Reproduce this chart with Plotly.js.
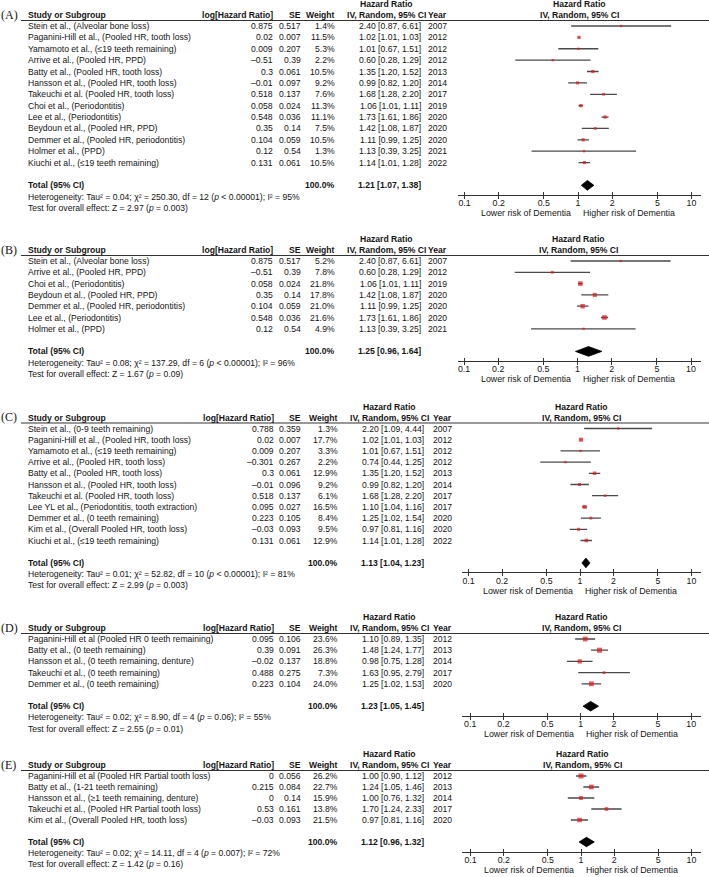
<!DOCTYPE html>
<html><head><meta charset="utf-8">
<script src="https://cdn.plot.ly/plotly-3.0.1.min.js"></script>
<style>html,body{margin:0;padding:0;background:#fff}</style>
</head><body><div id="chart" style="width:709px;height:877px"></div>
<script>
// ---------------- DATA ----------------
const tickVals = [0.1, 0.2, 0.5, 1, 2, 5, 10];
const tickText = ["0.1", "0.2", "0.5", "1", "2", "5", "10"];

// Panel A
const studiesA = ["Stein et al., (Alveolar bone loss)", "Paganini-Hill et al., (Pooled HR, tooth loss)", "Yamamoto et al., (≤19 teeth remaining)", "Arrive et al., (Pooled HR, PPD)", "Batty et al., (Pooled HR, tooth loss)", "Hansson et al., (Pooled HR, tooth loss)", "Takeuchi et al. (Pooled HR, tooth loss)", "Choi et al., (Periodontitis)", "Lee et al., (Periodontitis)", "Beydoun et al., (Pooled HR, PPD)", "Demmer et al., (Pooled HR, periodontitis)", "Holmer et al., (PPD)", "Kiuchi et al., (≤19 teeth remaining)"];
const logHRA = [0.875, 0.02, 0.009, -0.51, 0.3, -0.01, 0.518, 0.058, 0.548, 0.35, 0.104, 0.12, 0.131];
const seA = [0.517, 0.007, 0.207, 0.39, 0.061, 0.097, 0.137, 0.024, 0.036, 0.14, 0.059, 0.54, 0.061];
const weightA = [1.4, 11.5, 5.3, 2.2, 10.5, 9.2, 7.6, 11.3, 11.1, 7.5, 10.5, 1.3, 10.5];
const hrA = [2.40, 1.02, 1.01, 0.60, 1.35, 0.99, 1.68, 1.06, 1.73, 1.42, 1.11, 1.13, 1.14];
const loA = [0.87, 1.01, 0.67, 0.28, 1.20, 0.82, 1.28, 1.01, 1.61, 1.08, 0.99, 0.39, 1.01];
const hiA = [6.61, 1.03, 1.51, 1.29, 1.52, 1.20, 2.20, 1.11, 1.86, 1.87, 1.25, 3.25, 1.28];
const yearA = [2007, 2012, 2012, 2012, 2013, 2014, 2017, 2019, 2020, 2020, 2020, 2021, 2022];
const totalA = [1.21, 1.07, 1.38];
const hetA = ["0.04", "250.30", "12", "&lt; 0.00001", "95"];
const testA = ["2.97", "= 0.003"];

// Panel B
const studiesB = ["Stein et al., (Alveolar bone loss)", "Arrive et al., (Pooled HR, PPD)", "Choi et al., (Periodontitis)", "Beydoun et al., (Pooled HR, PPD)", "Demmer et al., (Pooled HR, periodontitis)", "Lee et al., (Periodontitis)", "Holmer et al., (PPD)"];
const logHRB = [0.875, -0.51, 0.058, 0.35, 0.104, 0.548, 0.12];
const seB = [0.517, 0.39, 0.024, 0.14, 0.059, 0.036, 0.54];
const weightB = [5.2, 7.8, 21.8, 17.8, 21.0, 21.6, 4.9];
const hrB = [2.40, 0.60, 1.06, 1.42, 1.11, 1.73, 1.13];
const loB = [0.87, 0.28, 1.01, 1.08, 0.99, 1.61, 0.39];
const hiB = [6.61, 1.29, 1.11, 1.87, 1.25, 1.86, 3.25];
const yearB = [2007, 2012, 2019, 2020, 2020, 2020, 2021];
const totalB = [1.25, 0.96, 1.64];
const hetB = ["0.08", "137.29", "6", "&lt; 0.00001", "96"];
const testB = ["1.67", "= 0.09"];

// Panel C
const studiesC = ["Stein et al., (0-9 teeth remaining)", "Paganini-Hill et al., (Pooled HR, tooth loss)", "Yamamoto et al., (≤19 teeth remaining)", "Arrive et al., (Pooled HR, tooth loss)", "Batty et al., (Pooled HR, tooth loss)", "Hansson et al., (Pooled HR, tooth loss)", "Takeuchi et al. (Pooled HR, tooth loss)", "Lee YL et al., (Periodontitis, tooth extraction)", "Demmer et al., (0 teeth remaining)", "Kim et al., (Overall Pooled HR, tooth loss)", "Kiuchi et al., (≤19 teeth remaining)"];
const logHRC = [0.788, 0.02, 0.009, -0.301, 0.3, -0.01, 0.518, 0.095, 0.223, -0.03, 0.131];
const seC = [0.359, 0.007, 0.207, 0.267, 0.061, 0.096, 0.137, 0.027, 0.105, 0.093, 0.061];
const weightC = [1.3, 17.7, 3.3, 2.2, 12.9, 9.2, 6.1, 16.5, 8.4, 9.5, 12.9];
const hrC = [2.20, 1.02, 1.01, 0.74, 1.35, 0.99, 1.68, 1.10, 1.25, 0.97, 1.14];
const loC = [1.09, 1.01, 0.67, 0.44, 1.20, 0.82, 1.28, 1.04, 1.02, 0.81, 1.01];
const hiC = [4.44, 1.03, 1.51, 1.25, 1.52, 1.20, 2.20, 1.16, 1.54, 1.16, 1.28];
const yearC = [2007, 2012, 2012, 2012, 2013, 2014, 2017, 2017, 2020, 2020, 2022];
const totalC = [1.13, 1.04, 1.23];
const hetC = ["0.01", "52.82", "10", "&lt; 0.00001", "81"];
const testC = ["2.99", "= 0.003"];

// Panel D
const studiesD = ["Paganini-Hill et al (Pooled HR 0 teeth remaining)", "Batty et al., (0 teeth remaining)", "Hansson et al., (0 teeth remaining, denture)", "Takeuchi et al., (0 teeth remaining)", "Demmer et al., (0 teeth remaining)"];
const logHRD = [0.095, 0.39, -0.02, 0.488, 0.223];
const seD = [0.106, 0.091, 0.137, 0.275, 0.104];
const weightD = [23.6, 26.3, 18.8, 7.3, 24.0];
const hrD = [1.10, 1.48, 0.98, 1.63, 1.25];
const loD = [0.89, 1.24, 0.75, 0.95, 1.02];
const hiD = [1.35, 1.77, 1.28, 2.79, 1.53];
const yearD = [2012, 2013, 2014, 2017, 2020];
const totalD = [1.23, 1.05, 1.45];
const hetD = ["0.02", "8.90", "4", "= 0.06", "55"];
const testD = ["2.55", "= 0.01"];

// Panel E
const studiesE = ["Paganini-Hill et al (Pooled HR Partial tooth loss)", "Batty et al., (1-21 teeth remaining)", "Hansson et al., (≥1 teeth remaining, denture)", "Takeuchi et al., (Pooled HR Partial tooth loss)", "Kim et al., (Overall Pooled HR, tooth loss)"];
const logHRE = [0, 0.215, 0, 0.53, -0.03];
const seE = [0.056, 0.084, 0.14, 0.161, 0.093];
const weightE = [26.2, 22.7, 15.9, 13.8, 21.5];
const hrE = [1.00, 1.24, 1.00, 1.70, 0.97];
const loE = [0.90, 1.05, 0.76, 1.24, 0.81];
const hiE = [1.12, 1.46, 1.32, 2.33, 1.16];
const yearE = [2012, 2013, 2014, 2017, 2020];
const totalE = [1.12, 0.96, 1.32];
const hetE = ["0.02", "14.11", "4", "= 0.007", "72"];
const testE = ["1.42", "= 0.16"];

const panelLabels = ["(A)", "(B)", "(C)", "(D)", "(E)"];

// ---------------- BUILD ----------------
const panels = [
  {s: studiesA, lg: logHRA, se: seA, w: weightA, hr: hrA, lo: loA, hi: hiA, yr: yearA, tot: totalA, het: hetA, z: testA},
  {s: studiesB, lg: logHRB, se: seB, w: weightB, hr: hrB, lo: loB, hi: hiB, yr: yearB, tot: totalB, het: hetB, z: testB},
  {s: studiesC, lg: logHRC, se: seC, w: weightC, hr: hrC, lo: loC, hi: hiC, yr: yearC, tot: totalC, het: hetC, z: testC},
  {s: studiesD, lg: logHRD, se: seD, w: weightD, hr: hrD, lo: loD, hi: hiD, yr: yearD, tot: totalD, het: hetD, z: testD},
  {s: studiesE, lg: logHRE, se: seE, w: weightE, hr: hrE, lo: loE, hi: hiE, yr: yearE, tot: totalE, het: hetE, z: testE}
];

// layout geometry (pixels)
const geom = [
  {row0: 26,    p: 11.38, x1: 578,   d: 113.5, xl: 458, xr: 701, cols: [274, 302, 336, 422, 448]},
  {row0: 261,   p: 11.3,  x1: 577.5, d: 113.5, xl: 458, xr: 701, cols: [274, 302, 336, 422, 448]},
  {row0: 428.5, p: 11.2,  x1: 580,   d: 111.5, xl: 462, xr: 701, cols: [275, 302, 339, 425, 453]},
  {row0: 639,   p: 11.2,  x1: 580.7, d: 110.5, xl: 462, xr: 701, cols: [275, 302, 339, 425, 453]},
  {row0: 776,   p: 11.0,  x1: 581,   d: 110.5, xl: 462, xr: 701, cols: [275, 302, 339, 425, 453]}
];

const W = 709, H = 877;
const FONT = '"Liberation Sans", Arial, Helvetica, sans-serif';
const SERIF = '"Liberation Serif", "Times New Roman", serif';
const FS = 8.6;
const TXT = '#141414';
const NAMEX = 27;

const traces = [], shapes = [], annotations = [];
const layout = {
  width: W, height: H, autosize: false,
  margin: {l: 0, r: 0, t: 0, b: 0, pad: 0},
  paper_bgcolor: '#fff', plot_bgcolor: 'rgba(0,0,0,0)',
  showlegend: false, hovermode: false,
  font: {family: FONT, size: FS, color: TXT}
};

const fmtNum = v => String(v).replace('-', '–');
const ci = (h, l, u) => h.toFixed(2) + ' [' + l.toFixed(2) + ', ' + u.toFixed(2) + ']';

function annP(text, xpx, ypx, xanchor, extra) {
  return Object.assign({text: text, xref: 'paper', yref: 'paper', x: xpx / W, y: 1 - ypx / H,
    xanchor: xanchor, yanchor: 'middle', showarrow: false, borderpad: 0,
    font: {family: FONT, size: FS, color: TXT}}, extra || {});
}
function annR(text, xpx, row, yid, xanchor, extra) {
  return Object.assign({text: text, xref: 'paper', yref: yid, x: xpx / W, y: row,
    xanchor: xanchor, yanchor: 'middle', showarrow: false, borderpad: 0,
    font: {family: FONT, size: FS, color: TXT}}, extra || {});
}

panels.forEach((P, k) => {
  const g = geom[k];
  const sfx = k === 0 ? '' : String(k + 1);
  const xid = 'x' + sfx, yid = 'y' + sfx;
  const n = P.s.length;
  const totRow = n + 1;
  const rowPx = r => g.row0 + r * g.p;
  const lineY = g.row0 - 5.5;
  const axisY = rowPx(totRow) + 9.5;
  const yRange = [(axisY - g.row0) / g.p, (lineY - g.row0) / g.p];
  const xRange = [(g.xl - g.x1) / g.d, (g.xr - g.x1) / g.d];

  layout['xaxis' + sfx] = {
    domain: [g.xl / W, g.xr / W], anchor: yid, type: 'log', range: xRange,
    tickmode: 'array', tickvals: tickVals, ticktext: tickText,
    ticks: 'inside', ticklen: 3, tickwidth: 1, tickcolor: '#333',
    showline: true, linecolor: '#333', linewidth: 1,
    showgrid: false, zeroline: false, fixedrange: true,
    tickfont: {family: FONT, size: 8.8, color: TXT}
  };
  layout['yaxis' + sfx] = {
    domain: [1 - axisY / H, 1 - lineY / H], anchor: xid, range: yRange,
    visible: false, fixedrange: true, showgrid: false, zeroline: false
  };
  const ovx = 'xaxis' + (k + 6);
  layout[ovx] = {
    overlaying: xid, anchor: yid, type: 'log', range: xRange,
    tickmode: 'array', tickvals: tickVals, ticks: 'outside', ticklen: 3, tickwidth: 1, tickcolor: '#333',
    showticklabels: false, showline: false, showgrid: false, zeroline: false, fixedrange: true
  };
  traces.push({type: 'scatter', mode: 'markers', x: [1], y: [0], xaxis: 'x' + (k + 6), yaxis: yid,
    marker: {opacity: 0}, hoverinfo: 'skip'});

  // study CIs and markers
  const rows = P.s.map((_, i) => i);
  traces.push({
    type: 'scatter', mode: 'markers', x: P.hr, y: rows, xaxis: xid, yaxis: yid,
    marker: {symbol: 'square', size: P.w.map(w => Math.max(2.3, Math.sqrt(w) * 0.98)), color: '#e0161d', line: {width: 0}},
    error_x: {type: 'data', symmetric: false,
      array: P.hi.map((h, i) => h - P.hr[i]),
      arrayminus: P.lo.map((l, i) => P.hr[i] - l),
      width: 0, thickness: 1.3, color: '#4a4a4a'},
    cliponaxis: false, hoverinfo: 'skip'
  });
  // pooled diamond
  const [T, TL, TH] = P.tot;
  traces.push({
    type: 'scatter', mode: 'lines', x: [TL, T, TH, T, TL],
    y: [totRow, totRow - 0.43, totRow, totRow + 0.43, totRow],
    fill: 'toself', fillcolor: '#000', line: {color: '#000', width: 0.8},
    xaxis: xid, yaxis: yid, hoverinfo: 'skip'
  });

  // null line and header rule
  shapes.push({type: 'line', xref: xid, yref: yid + ' domain', x0: 0, x1: 0, y0: 0, y1: 1,
    line: {color: '#444', width: 1}});
  shapes.push({type: 'line', xref: 'paper', yref: 'paper', x0: 21 / W, x1: 1,
    y0: 1 - lineY / H, y1: 1 - lineY / H, line: {color: '#333', width: 1}});

  // header texts
  const c = g.cols;
  const hy1 = g.row0 - 22, hy2 = g.row0 - 11;
  annotations.push(annP(panelLabels[k], 0, hy2 - 0.5, 'left', {font: {family: SERIF, size: 12, color: TXT}}));
  annotations.push(annP('<b>Study or Subgroup</b>', NAMEX, hy2, 'left'));
  annotations.push(annP('<b>log[Hazard Ratio]</b>', c[0], hy2, 'right'));
  annotations.push(annP('<b>SE</b>', c[1], hy2, 'right'));
  annotations.push(annP('<b>Weight</b>', c[2], hy2, 'right'));
  annotations.push(annP('<b>IV, Random, 95% CI</b>', c[3] + 5, hy2, 'right'));
  annotations.push(annP('<b>Hazard Ratio</b>', c[3] + 5 - 41, hy1, 'center'));
  annotations.push(annP('<b>Year</b>', c[4], hy2, 'right'));
  // plot header
  annotations.push({text: '<b>Hazard Ratio</b>', xref: xid, x: 0, xshift: 1, yref: 'paper', y: 1 - hy1 / H,
    xanchor: 'center', yanchor: 'middle', showarrow: false, borderpad: 0, font: {family: FONT, size: FS, color: TXT}});
  annotations.push({text: '<b>IV, Random, 95% CI</b>', xref: xid, x: 0, xshift: 1, yref: 'paper', y: 1 - hy2 / H,
    xanchor: 'center', yanchor: 'middle', showarrow: false, borderpad: 0, font: {family: FONT, size: FS, color: TXT}});

  // study rows
  P.s.forEach((name, i) => {
    annotations.push(annR(name, NAMEX, i, yid, 'left'));
    annotations.push(annR(fmtNum(P.lg[i]), c[0], i, yid, 'right'));
    annotations.push(annR(fmtNum(P.se[i]), c[1], i, yid, 'right'));
    annotations.push(annR(P.w[i].toFixed(1) + '%', c[2], i, yid, 'right'));
    annotations.push(annR(ci(P.hr[i], P.lo[i], P.hi[i]), c[3], i, yid, 'right'));
    annotations.push(annR(String(P.yr[i]), c[4], i, yid, 'right'));
  });
  // total
  annotations.push(annR('<b>Total (95% CI)</b>', NAMEX, totRow, yid, 'left'));
  annotations.push(annR('<b>100.0%</b>', c[2], totRow, yid, 'right'));
  annotations.push(annR('<b>' + ci(T, TL, TH) + '</b>', c[3], totRow, yid, 'right'));
  const h = P.het;
  annotations.push(annP('Heterogeneity: Tau² = ' + h[0] + '; χ² = ' + h[1] + ', df = ' + h[2] +
    ' (<i>p</i> ' + h[3] + '); I² = ' + h[4] + '%', NAMEX, rowPx(totRow + 1), 'left'));
  annotations.push(annP('Test for overall effect: Z = ' + P.z[0] + ' (<i>p</i> ' + P.z[1] + ')',
    NAMEX, rowPx(totRow + 2), 'left'));

  // favour labels
  annotations.push({text: 'Lower risk of Dementia', xref: xid, x: 0, xshift: -6, yref: 'paper', y: 1 - (axisY + 18.5) / H,
    xanchor: 'right', yanchor: 'middle', showarrow: false, borderpad: 0, font: {family: FONT, size: 8.8, color: TXT}});
  annotations.push({text: 'Higher risk of Dementia', xref: xid, x: 0, xshift: 4, yref: 'paper', y: 1 - (axisY + 18.5) / H,
    xanchor: 'left', yanchor: 'middle', showarrow: false, borderpad: 0, font: {family: FONT, size: 8.8, color: TXT}});
});

layout.shapes = shapes;
layout.annotations = annotations;

Plotly.newPlot('chart', traces, layout, {staticPlot: true, displayModeBar: false});
</script></body></html>
